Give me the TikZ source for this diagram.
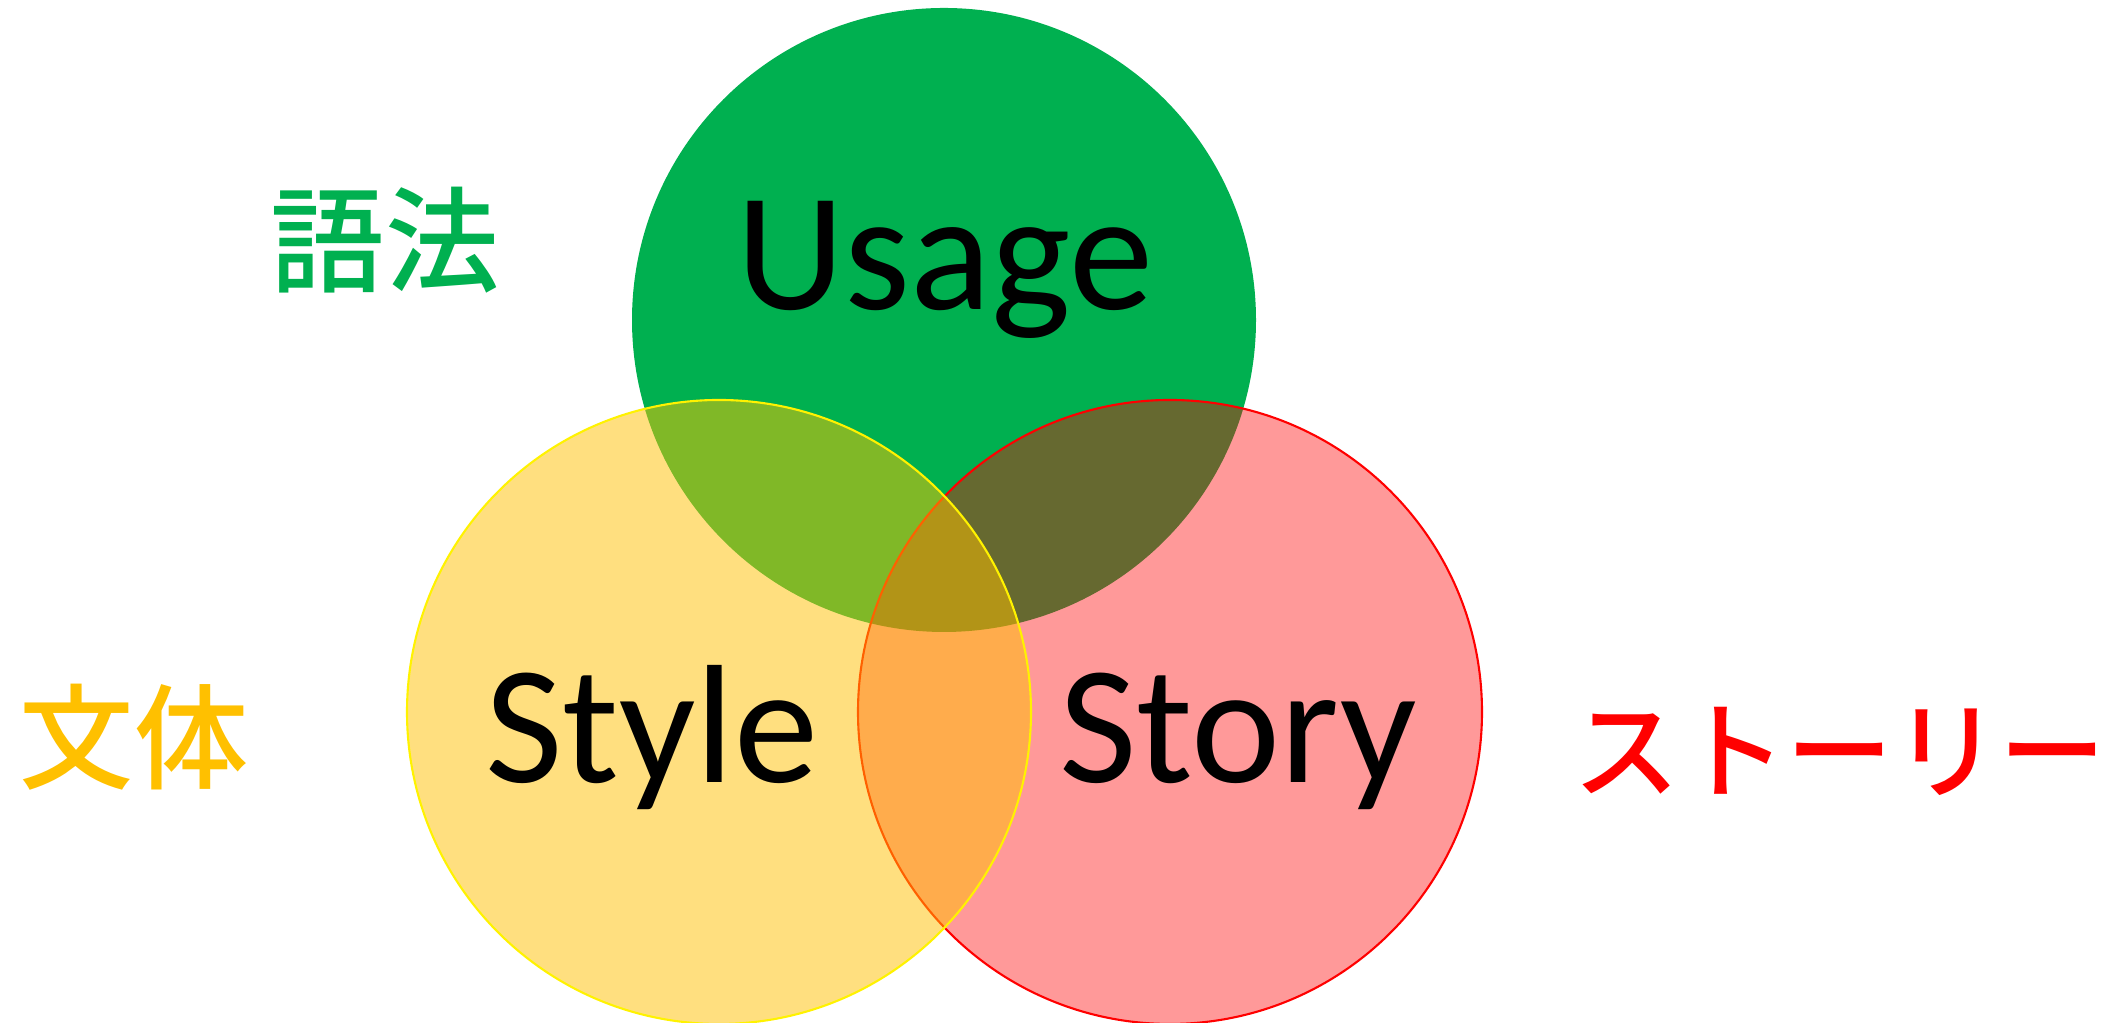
\documentclass[tikz,border=0pt]{standalone}
\usepackage{fontspec}
\setmainfont{Carlito}
\newfontfamily\jpfont{Noto Sans CJK JP}[UprightFont=* Medium]
\definecolor{usagegreen}{HTML}{00B050}
\definecolor{styleyellow}{HTML}{FFC000}
\definecolor{storyred}{HTML}{FF0000}
\begin{document}
\begin{tikzpicture}[circ/.style={circle,inner sep=0pt,minimum size=6.24cm},
word/.style={anchor=base,inner sep=0pt,font=\fontsize{48}{58}\selectfont},
jp/.style={anchor=base,inner sep=0pt,font=\jpfont\fontsize{32.5}{38}\selectfont}]
\useasboundingbox (0,0) rectangle (21.18,10.23);
\node[circ,fill=usagegreen] (G) at (9.44,7.03) {};
\node[circ,fill=storyred,fill opacity=.4,draw=storyred,line width=.6pt] (R) at (11.70,3.11) {};
\node[circ,fill=styleyellow,fill opacity=.5,draw=yellow,line width=.6pt] (Y) at (7.19,3.11) {};
\node[word] (usage) at (9.45,7.13) {Usage};
\node[word] (style) at (6.52,2.40) {Style};
\node[word] (story) at (12.38,2.40) {Story};
\node[jp,text=usagegreen] (goho) at (3.85,7.39) {語法};
\node[jp,text=styleyellow] (buntai) at (1.34,2.42) {文体};
\node[jp,text=storyred,font=\jpfont\fontsize{30.3}{36}\selectfont] (story jp) at (18.40,2.32) {ストーリー};
\end{tikzpicture}
\end{document}
